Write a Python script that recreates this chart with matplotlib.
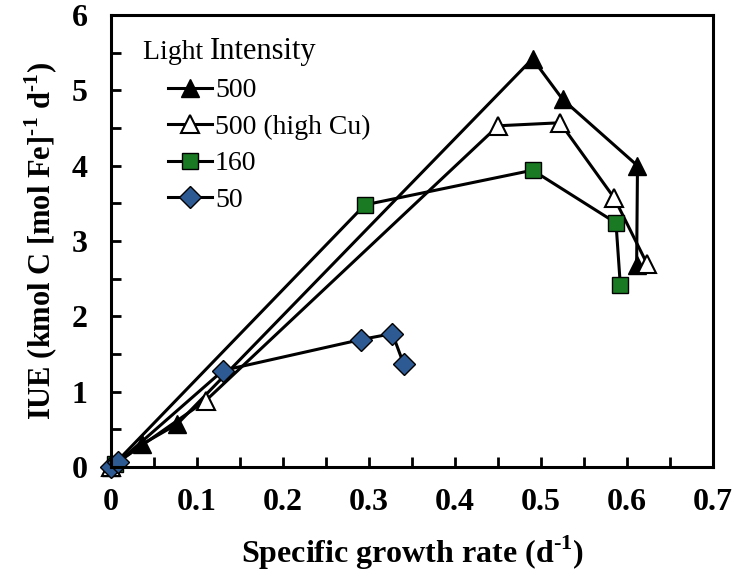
import matplotlib
matplotlib.use('Agg')
import matplotlib.pyplot as plt
from matplotlib.ticker import MultipleLocator

# data
x_500 = [0.0, 0.036, 0.077, 0.49, 0.525, 0.612, 0.611]
y_500 = [0.0, 0.30, 0.57, 5.42, 4.88, 4.00, 2.68]

x_500cu = [0.0, 0.11, 0.45, 0.522, 0.585, 0.623]
y_500cu = [0.0, 0.88, 4.53, 4.57, 3.57, 2.70]

x_160 = [0.004, 0.295, 0.49, 0.587, 0.592]
y_160 = [0.04, 3.48, 3.94, 3.24, 2.42]

x_50 = [0.0, 0.008, 0.13, 0.29, 0.327, 0.34]
y_50 = [0.0, 0.06, 1.28, 1.69, 1.77, 1.37]

labels = ['500', '500 (high Cu)', '160', '50']
xticks = [0, 0.1, 0.2, 0.3, 0.4, 0.5, 0.6, 0.7]
xticklabels = ['0', '0.1', '0.2', '0.3', '0.4', '0.5', '0.6', '0.7']

plt.rcParams['font.family'] = 'Liberation Serif'
plt.rcParams['mathtext.fontset'] = 'custom'
plt.rcParams['mathtext.rm'] = 'Liberation Serif:bold'
plt.rcParams['mathtext.bf'] = 'Liberation Serif:bold'

fig = plt.figure(figsize=(7.46, 5.80), dpi=100)
ax = fig.add_axes([0.149, 0.195, 0.807, 0.779])

lw = 2.2
ax.plot(x_500, y_500, '-^', color='black', lw=lw, ms=13, mfc='black', mec='black',
        mew=1, label=labels[0], clip_on=False)
ax.plot(x_500cu, y_500cu, '-^', color='black', lw=lw, ms=13, mfc='white', mec='black',
        mew=1.5, label=labels[1], clip_on=False)
ax.plot(x_160, y_160, '-s', color='black', lw=lw, ms=11, mfc='#1A7A24', mec='black',
        mew=1, label=labels[2], clip_on=False)
ax.plot(x_50, y_50, '-D', color='black', lw=lw, ms=11, mfc='#2D5A92', mec='black',
        mew=1, label=labels[3], clip_on=False)

ax.set_xlim(0, 0.7)
ax.set_ylim(0, 6)
ax.set_xticks(xticks)
ax.set_xticklabels(xticklabels)
ax.xaxis.set_minor_locator(MultipleLocator(0.05))
ax.yaxis.set_major_locator(MultipleLocator(1))
ax.yaxis.set_minor_locator(MultipleLocator(0.5))
ax.tick_params(which='both', direction='in', length=7, width=2, labelsize=23)
ax.tick_params(axis='x', pad=15)
ax.tick_params(axis='y', pad=17)
for lab in ax.get_xticklabels() + ax.get_yticklabels():
    lab.set_fontweight('bold')
for sp in ax.spines.values():
    sp.set_linewidth(2.2)

ax.set_xlabel(r'Specific growth rate (d$^{\text{-1}}$)', fontsize=23, fontweight='bold', labelpad=12)
ax.set_ylabel(r'IUE (kmol C [mol Fe]$^{\text{-1}}$ d$^{\text{-1}}$)', fontsize=22, fontweight='bold', labelpad=8)

# legend title drawn by hand, "Light" is a bit smaller than "Intensity" in the original
t1 = ax.text(0.053, 0.902, 'Light ', transform=ax.transAxes, fontsize=20, va='baseline')
fig.canvas.draw()
bb = t1.get_window_extent()
x2 = ax.transAxes.inverted().transform((bb.x1, bb.y0))[0]
ax.text(x2, 0.902, 'Intensity', transform=ax.transAxes, fontsize=22, va='baseline')

leg = ax.legend(loc='upper left', bbox_to_anchor=(0.094, 0.861), frameon=False,
                fontsize=20, handlelength=1.6, handletextpad=0.1, labelspacing=0.4,
                borderaxespad=0.0, borderpad=0.0)

fig.savefig('out.png', dpi=100)
